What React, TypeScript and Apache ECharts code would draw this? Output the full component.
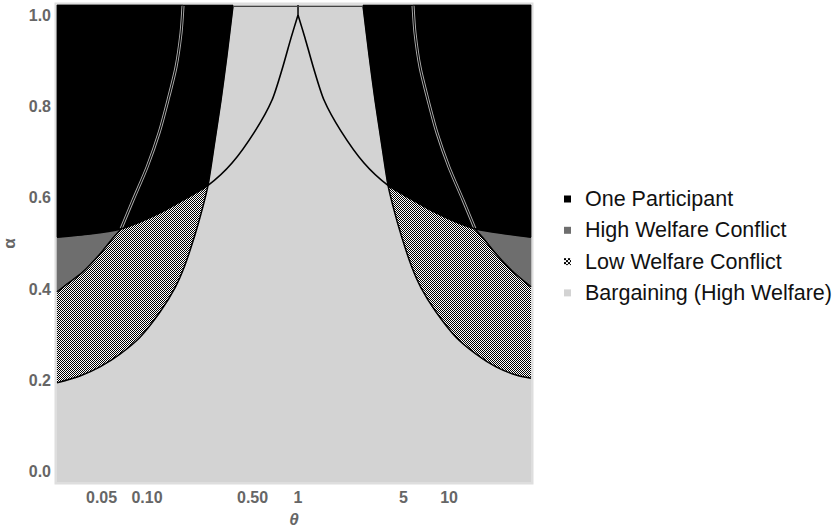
import React, { useEffect, useRef } from "react";
import * as echarts from "echarts";

// ---- axis ranges & ticks ----
const thetaMin = 0.02535;
const thetaMax = 34.9;
const alphaMin = -0.022;
const alphaMax = 1.022;

const xTickValues = [0.05, 0.1, 0.5, 1, 5, 10];
const xTickLabels = ["0.05", "0.10", "0.50", "1", "5", "10"];
const yTickValues = [0, 0.2, 0.4, 0.6, 0.8, 1.0];
const yTickLabels = ["0.0", "0.2", "0.4", "0.6", "0.8", "1.0"];

const legendNames = [
  "One Participant",
  "High Welfare Conflict",
  "Low Welfare Conflict",
  "Bargaining (High Welfare)",
];

// ---- boundary curves (theta, alpha) ----
// C1: curve peaking at theta = 1
const c1LeftTheta = [0.02535, 0.0419, 0.0673, 0.0899, 0.122, 0.173, 0.2535, 0.3655, 0.5192, 0.673, 0.7955, 0.8989, 1];
const c1LeftAlpha = [0.514, 0.521, 0.532, 0.547, 0.567, 0.595, 0.627, 0.676, 0.746, 0.814, 0.888, 0.95, 1.0];
const c1RightTheta = [1, 1.1125, 1.2571, 1.486, 1.926, 2.736, 3.945, 5.78, 8.197, 11.12, 14.86, 23.9, 34.9];
const c1RightAlpha = [1.0, 0.95, 0.888, 0.814, 0.746, 0.676, 0.627, 0.595, 0.567, 0.547, 0.532, 0.521, 0.514];

// C2: double line
const c2LeftTheta = [0.02535, 0.0295, 0.0377, 0.0488, 0.0595, 0.0673, 0.0808, 0.1, 0.1201, 0.1377, 0.1556, 0.168, 0.1731];
const c2LeftAlpha = [0.394, 0.411, 0.438, 0.477, 0.512, 0.532, 0.595, 0.667, 0.742, 0.814, 0.886, 0.961, 1.02];
const c2RightTheta = [5.777, 5.952, 6.427, 7.262, 8.326, 10.0, 12.38, 14.86, 16.81, 20.49, 26.53, 34.9];
const c2RightAlpha = [1.02, 0.961, 0.886, 0.814, 0.742, 0.667, 0.595, 0.532, 0.512, 0.477, 0.438, 0.405];

// C3: steep outer curve
const c3LeftTheta = [0.02535, 0.036, 0.0488, 0.0662, 0.0899, 0.1219, 0.1532, 0.1785, 0.2079, 0.2313, 0.2535, 0.282, 0.3091, 0.3387, 0.3711];
const c3LeftAlpha = [0.195, 0.21, 0.23, 0.258, 0.295, 0.35, 0.403, 0.453, 0.519, 0.573, 0.627, 0.7265, 0.814, 0.9125, 1.02];
const c3RightTheta = [2.695, 2.952, 3.235, 3.546, 3.945, 4.323, 4.81, 5.602, 6.527, 8.203, 11.12, 15.11, 20.49, 27.78, 34.9];
const c3RightAlpha = [1.02, 0.9125, 0.814, 0.7265, 0.627, 0.573, 0.519, 0.453, 0.403, 0.35, 0.295, 0.258, 0.23, 0.212, 0.205];

const lg = Math.log10;
const pts = (th: number[], al: number[]) => th.map((t, i) => [lg(t), al[i]]);

function makeChecker(cell: number, reps: number) {
  const c = document.createElement("canvas");
  c.width = cell * 2 * reps;
  c.height = cell * 2 * reps;
  const ctx = c.getContext("2d")!;
  ctx.fillStyle = "#ffffff";
  ctx.fillRect(0, 0, c.width, c.height);
  ctx.fillStyle = "#000000";
  for (let i = 0; i < reps * 2; i++) {
    for (let j = 0; j < reps * 2; j++) {
      if ((i + j) % 2 === 0) ctx.fillRect(i * cell, j * cell, cell, cell);
    }
  }
  return c;
}

export default function App() {
  const ref = useRef<HTMLDivElement>(null);

  useEffect(() => {
    if (!ref.current) return;
    const chart = echarts.init(ref.current, undefined, { renderer: "svg" });

    const checker = { image: makeChecker(1, 4), repeat: "repeat" } as any;
    const checkerIcon = { image: makeChecker(2, 1), repeat: "repeat" } as any;

    const c1L = pts(c1LeftTheta, c1LeftAlpha);
    const c1R = pts(c1RightTheta, c1RightAlpha);
    const c2L = pts(c2LeftTheta, c2LeftAlpha);
    const c2R = pts(c2RightTheta, c2RightAlpha);
    const c3L = pts(c3LeftTheta, c3LeftAlpha);
    const c3R = pts(c3RightTheta, c3RightAlpha);
    const xL = lg(thetaMin);
    const xR = lg(thetaMax);

    const iC1L = c1LeftTheta.indexOf(0.2535);
    const iC3L = c3LeftTheta.indexOf(0.2535);
    const iC1R = c1RightTheta.indexOf(3.945);
    const iC3R = c3RightTheta.indexOf(3.945);
    const iC2L = c2LeftTheta.indexOf(0.0673);
    const iC2R = c2RightTheta.indexOf(14.86);

    const bgPoly = [[xL, alphaMin], [xR, alphaMin], [xR, alphaMax], [xL, alphaMax]];
    const checkerL = [...c3L, [c3L[c3L.length - 1][0], alphaMax], [xL, alphaMax]];
    const checkerR = [...c3R, [xR, alphaMax], [c3R[0][0], alphaMax]];
    const grayL = [...c2L, [c2L[c2L.length - 1][0], alphaMax], [xL, alphaMax]];
    const grayR = [...c2R, [xR, alphaMax], [c2R[0][0], alphaMax]];
    const blackL = [...c1L.slice(0, iC1L + 1), ...c3L.slice(iC3L + 1), [c3L[c3L.length - 1][0], alphaMax], [xL, alphaMax]];
    const blackR = [...c3R.slice(0, iC3R + 1), ...c1R.slice(iC1R + 1), [xR, alphaMax], [c3R[0][0], alphaMax]];

    const polyRender = (polys: number[][][], fill: any, stroke: boolean) => (_p: any, api: any) => ({
      type: "group",
      children: polys.map((poly) => ({
        type: "polygon",
        shape: { points: poly.map((p) => api.coord(p)) },
        style: stroke ? { fill, stroke: fill, lineWidth: 0.6 } : { fill },
        silent: true,
      })),
    });

    const line = (p: number[][], api: any, stroke: string, w: number, smooth = 0.25) => ({
      type: "polyline",
      shape: { points: p.map((q) => api.coord(q)), smooth },
      style: { stroke, lineWidth: w, fill: null, lineJoin: "round" },
      silent: true,
    });

    const linesRender = (_p: any, api: any) => ({
      type: "group",
      children: [
        line(c2L.slice(iC2L), api, "#b0b0b0", 3.0),
        line(c2R.slice(0, iC2R + 1), api, "#b0b0b0", 3.0),
        line(c2L.slice(iC2L), api, "#000", 1.2),
        line(c2R.slice(0, iC2R + 1), api, "#000", 1.2),
        line(c2L.slice(0, iC2L + 1), api, "#000", 1.5),
        line(c2R.slice(iC2R), api, "#000", 1.5),
        line(c1L, api, "#000", 1.6),
        line(c1R, api, "#000", 1.6),
        line(c3L, api, "#000", 1.5),
        line(c3R, api, "#000", 1.5),
        line([[0, 1.0], [0, alphaMax]], api, "#000", 1.5, 0),
        line([[c3L[c3L.length - 1][0], alphaMax - 0.003], [c3R[0][0], alphaMax - 0.003]], api, "#444", 1.2, 0),
      ],
    });

    const axisLabelStyle = {
      color: "#666",
      fontWeight: "bold" as const,
      fontSize: 16,
      fontFamily: "'Liberation Sans', Arial, sans-serif",
    };

    chart.setOption({
      animation: false,
      grid: {
        left: 57,
        right: 836 - 531,
        top: 5,
        bottom: 530 - 482,
        containLabel: false,
        outerBoundsMode: "none",
        show: true,
        borderColor: "#dedede",
        borderWidth: 5,
        backgroundColor: "#d3d3d3",
      },
      legend: {
        orient: "vertical",
        left: 564,
        top: 188,
        padding: 0,
        itemWidth: 7,
        itemHeight: 7,
        itemGap: 9.3,
        icon: "rect",
        selectedMode: false,
        textStyle: {
          fontSize: 21.5,
          lineHeight: 22,
          color: "#111",
          fontFamily: "'Liberation Sans', Arial, sans-serif",
          padding: [0, 0, 0, 9],
        },
        data: [
          { name: legendNames[0], itemStyle: { color: "#000" } },
          { name: legendNames[1], itemStyle: { color: "#6e6e6e" } },
          { name: legendNames[2], itemStyle: { color: checkerIcon } },
          { name: legendNames[3], itemStyle: { color: "#d3d3d3" } },
        ],
      },
      xAxis: {
        type: "value",
        min: xL,
        max: xR,
        name: "θ",
        nameLocation: "middle",
        nameGap: 29,
        nameTextStyle: { ...axisLabelStyle, fontSize: 17, fontStyle: "italic" },
        axisLine: { show: false },
        axisTick: { show: false },
        splitLine: { show: false },
        axisLabel: {
          ...axisLabelStyle,
          margin: 7,
          customValues: xTickValues.map((v) => lg(v)),
          formatter: (v: number) => {
            const i = xTickValues.findIndex((t) => Math.abs(lg(t) - v) < 1e-6);
            return i >= 0 ? xTickLabels[i] : "";
          },
        },
      },
      yAxis: {
        type: "value",
        min: alphaMin,
        max: alphaMax,
        name: "α",
        nameLocation: "middle",
        nameRotate: 90,
        nameGap: 38,
        nameTextStyle: { ...axisLabelStyle, fontSize: 17 },
        axisLine: { show: false },
        axisTick: { show: false },
        splitLine: { show: false },
        axisLabel: {
          ...axisLabelStyle,
          margin: 6,
          customValues: yTickValues,
          formatter: (v: number) => {
            const i = yTickValues.findIndex((t) => Math.abs(t - v) < 1e-6);
            return i >= 0 ? yTickLabels[i] : "";
          },
        },
      },
      series: [
        {
          name: legendNames[3],
          type: "custom",
          itemStyle: { color: "#d3d3d3" },
          data: [[0, 0]],
          renderItem: polyRender([bgPoly], "#d3d3d3", false),
        },
        {
          name: legendNames[2],
          type: "custom",
          itemStyle: { color: "#888" },
          data: [[0, 0]],
          renderItem: polyRender([checkerL, checkerR], checker, false),
        },
        {
          name: legendNames[1],
          type: "custom",
          itemStyle: { color: "#6e6e6e" },
          data: [[0, 0]],
          renderItem: polyRender([grayL, grayR], "#6e6e6e", true),
        },
        {
          name: legendNames[0],
          type: "custom",
          itemStyle: { color: "#000" },
          data: [[0, 0]],
          renderItem: polyRender([blackL, blackR], "#000", true),
        },
        {
          name: "boundaries",
          type: "custom",
          data: [[0, 0]],
          renderItem: linesRender,
        },
      ],
    });

    return () => chart.dispose();
  }, []);

  return (
    <>
      <style>{"svg image { image-rendering: pixelated; }"}</style>
      <div
        ref={ref}
        style={{ position: "fixed", left: 0, top: 0, width: 836, height: 530, background: "#fff" }}
      />
    </>
  );
}
